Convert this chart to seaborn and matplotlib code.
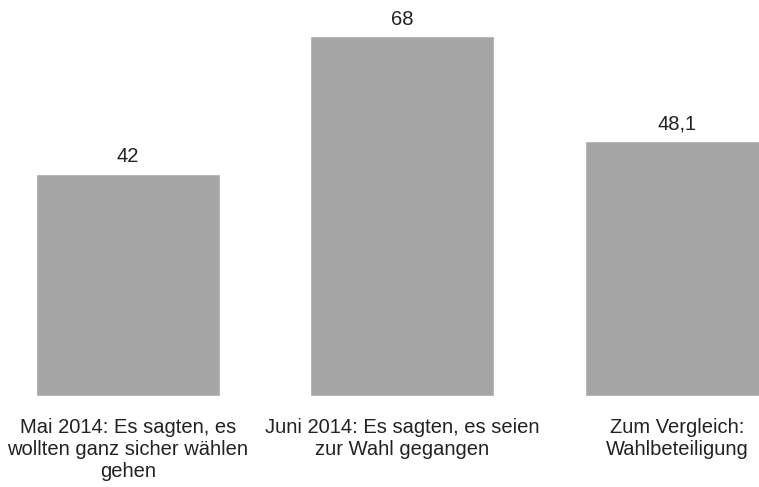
import matplotlib
matplotlib.use("Agg")
import matplotlib.pyplot as plt
import seaborn as sns
import pandas as pd

kategorien = [
    "Mai 2014: Es sagten, es\nwollten ganz sicher wählen\ngehen",
    "Juni 2014: Es sagten, es seien\nzur Wahl gegangen",
    "Zum Vergleich:\nWahlbeteiligung",
]
werte = [42, 68, 48.1]
beschriftung = ["42", "68", "48,1"]

df = pd.DataFrame({"kategorie": kategorien, "wert": werte})

sns.set_style("white")
plt.rcParams["font.family"] = ["Liberation Sans", "DejaVu Sans"]

fig = plt.figure(figsize=(7.59, 4.87), dpi=100)
ax = fig.add_axes([0, 1 - 396 / 487, 1, 396 / 487])
sns.barplot(data=df, x="kategorie", y="wert", color="#a6a6a6", width=0.67,
            saturation=1, ax=ax)

for i, (v, t) in enumerate(zip(werte, beschriftung)):
    ax.text(i, v + 3.2, t, ha="center", va="center", fontsize=14.5, color="#222222")

ax.set_xlim(-0.466, 2.299)
ax.set_ylim(0, 74.8)
ax.set_xlabel("")
ax.set_ylabel("")
ax.set_yticks([])
ax.tick_params(axis="x", length=0, pad=16, labelsize=14.5, labelcolor="#222222")
sns.despine(ax=ax, left=True, bottom=True)

fig.savefig("out.png", dpi=100)
